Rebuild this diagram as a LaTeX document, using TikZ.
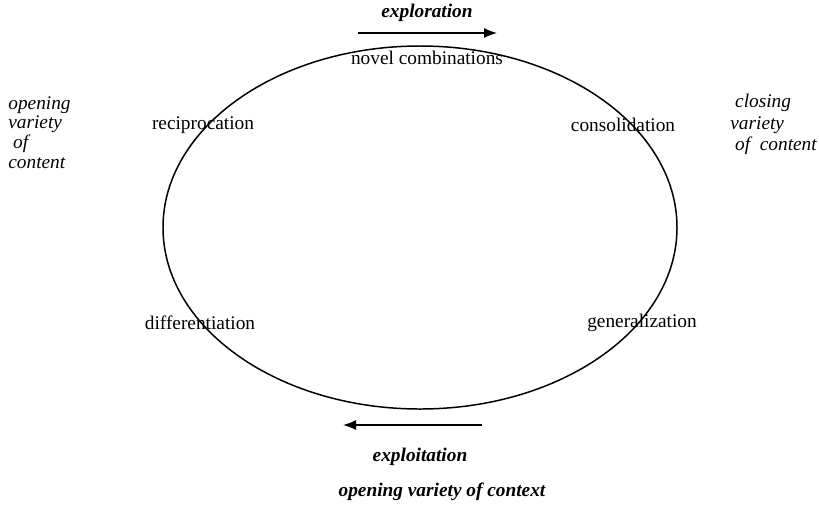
\documentclass[tikz,border=0pt]{standalone}
\usepackage{fontspec}
\setmainfont{Liberation Serif}
\usetikzlibrary{arrows.meta}
\begin{document}
\begin{tikzpicture}[auto=center,
		lbl/.style={font=\fontsize{11}{13}\selectfont, inner sep=0pt},
		side/.style={font=\fontsize{11}{11.3}\selectfont\itshape, align=left, anchor=west, inner sep=0pt},
		flow/.style={font=\fontsize{11}{13}\selectfont\bfseries\itshape, inner sep=0pt},
		arr/.style={-{Latex[length=2.6mm,width=2mm]}, line width=0.8pt}]
			\useasboundingbox (-8.4,4.55) rectangle (7.98,-5.75);
			%\draw [help lines] (-8,-5) grid (8,4);
			\draw[line width=0.85pt] (0,0) ellipse (5.14 and 3.63);

			\node[flow] (explor) at (0.14,4.29) {exploration};
			\coordinate (ta) at (-1.24,3.89);
			\coordinate (tb) at (1.54,3.89);
			\draw[arr] (ta) -- (tb);

			\node[lbl] (novel) at (0.14,3.39) {novel combinations};
			\node[lbl] (recip) at (-4.34,2.05) {reciprocation};
			\node[lbl] (consol) at (4.06,2.05) {consolidation};
			\node[lbl] (differ) at (-4.4,-1.91) {differentiation};
			\node[lbl] (general) at (4.44,-1.91) {generalization};

			\node[side] (opencont) at (-8.24,1.9) {opening\\variety\\\ of\\content};
			\node[side, font=\fontsize{11}{12.2}\selectfont\itshape] (closecont) at (6.2,2.06) {\ closing\\variety\\\ of\ \ content};

			\coordinate (ba) at (1.24,-3.95);
			\coordinate (bb) at (-1.54,-3.95);
			\draw[arr] (ba) -- (bb);
			\node[flow] (exploit) at (0,-4.59) {exploitation};
			\node[flow] (opencontext) at (0.44,-5.29) {opening variety of context};
		\end{tikzpicture}
\end{document}
